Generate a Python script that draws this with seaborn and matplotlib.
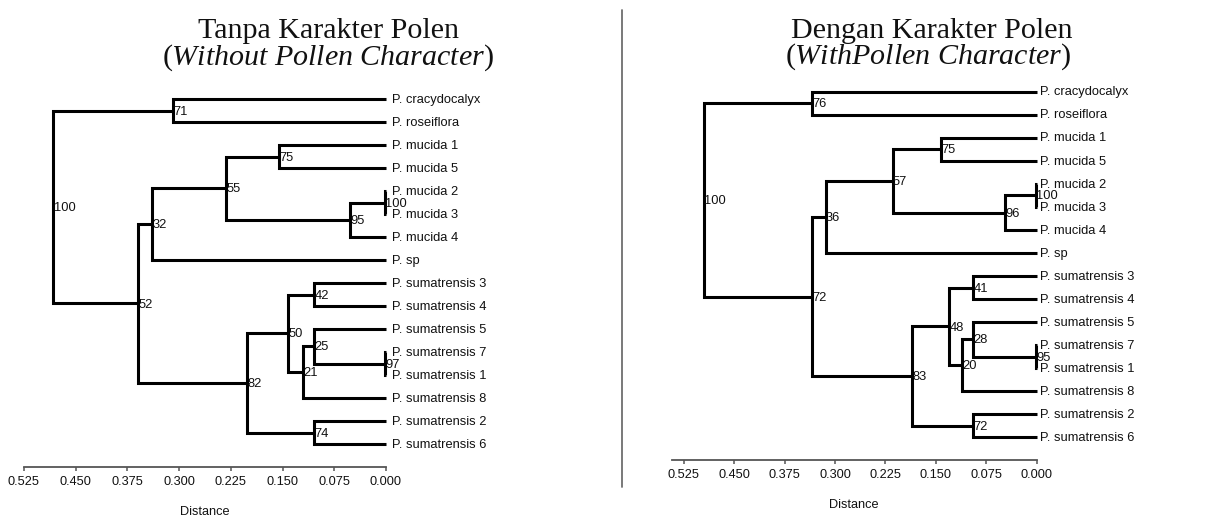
import numpy as np
import pandas as pd
import seaborn as sns
import matplotlib.pyplot as plt
from matplotlib.lines import Line2D

sns.set_theme(style="white")
plt.rcParams['font.family'] = ['Liberation Sans', 'DejaVu Sans']
plt.rcParams['mathtext.fontset'] = 'custom'
plt.rcParams['mathtext.rm'] = 'Liberation Serif'
plt.rcParams['mathtext.it'] = 'Liberation Serif:italic'

leaves = ["P. cracydocalyx", "P. roseiflora", "P. mucida 1", "P. mucida 5",
          "P. mucida 2", "P. mucida 3", "P. mucida 4", "P. sp",
          "P. sumatrensis 3", "P. sumatrensis 4", "P. sumatrensis 5",
          "P. sumatrensis 7", "P. sumatrensis 1", "P. sumatrensis 8",
          "P. sumatrensis 2", "P. sumatrensis 6"]

# joins: indices < 16 are leaves, 16+k is the k-th join
pairs = [(0, 1), (4, 5), (2, 3), (17, 6), (18, 19), (20, 7),
         (11, 12), (10, 22), (23, 13), (8, 9), (25, 24), (14, 15),
         (26, 27), (21, 28), (16, 29)]

dist_without = [0.3085, 0.0015, 0.1557, 0.0527, 0.2316, 0.339,
                0.0015, 0.104, 0.121, 0.104, 0.142, 0.104,
                0.2016, 0.360, 0.4825]
boot_without = [71, 100, 75, 95, 55, 32, 97, 25, 21, 42, 50, 74, 82, 52, 100]

dist_with = [0.334, 0.001, 0.143, 0.047, 0.2144, 0.314,
             0.001, 0.095, 0.1117, 0.095, 0.1305, 0.095,
             0.186, 0.334, 0.495]
boot_with = [76, 100, 75, 96, 57, 36, 95, 28, 20, 41, 48, 72, 83, 72, 100]

ticks = [0.525, 0.450, 0.375, 0.300, 0.225, 0.150, 0.075, 0.000]

W, H = 1223, 518
fig = plt.figure(figsize=(W / 100, H / 100), dpi=100)


def draw_tree(ax, dist, boot, label_off):
    n = len(leaves)
    xs = [0.0] * n
    ys = list(range(n))
    rows = []
    for k, ((a, b), h) in enumerate(zip(pairs, dist)):
        rows += [(k, xs[a], ys[a]), (k, h, ys[a]), (k, h, ys[b]), (k, xs[b], ys[b])]
        xs.append(h)
        ys.append((ys[a] + ys[b]) / 2)
    df = pd.DataFrame(rows, columns=["seg", "x", "y"])
    sns.lineplot(data=df, x="x", y="y", units="seg", estimator=None, sort=False,
                 color="black", lw=2.2, ax=ax, legend=False, clip_on=False,
                 solid_joinstyle="miter", solid_capstyle="butt")
    for i, name in enumerate(leaves):
        ax.annotate(name, (0, i), xytext=(label_off, -0.5), textcoords="offset points",
                    ha="left", va="center", fontsize=9.3, color="#111")
    for k, bs in enumerate(boot):
        ax.annotate(str(bs), (xs[n + k], ys[n + k]), xytext=(0.3, -0.8),
                    textcoords="offset points", ha="left", va="center",
                    fontsize=9.3, color="#111")
    ax.set_xticks(ticks)
    ax.set_xticklabels([f"{t:.3f}" for t in ticks])
    ax.set_yticks([])
    ax.set_ylabel("")
    ax.set_xlabel("Distance", fontsize=9.2, labelpad=13, color="#111")
    sns.despine(ax=ax, left=True)
    ax.spines["bottom"].set_color("#555")
    ax.spines["bottom"].set_linewidth(1.3)
    ax.tick_params(axis="x", bottom=True, length=3, width=1.1, color="#555",
                   pad=3.5, labelsize=9.2, labelcolor="#111")


def px_axes(x0, x1, ytop, ybot):
    return fig.add_axes([x0 / W, 1 - ybot / H, (x1 - x0) / W, (ybot - ytop) / H])


# left tree
ax1 = px_axes(24, 386, 99, 466.7)
draw_tree(ax1, dist_without, boot_without, 4)
ax1.set_xlim(0.525, 0)
ax1.set_ylim((466.7 - 99) / 23.0, 0)

# right tree
ax2 = px_axes(671.7, 1036.7, 91.7, 460)
draw_tree(ax2, dist_with, boot_with, 2.5)
ax2.set_xlim(0.543, 0)
ax2.set_ylim((460 - 91.7) / 23.04, 0)
ax2.spines["bottom"].set_bounds(0, 0.543)

# divider
fig.add_artist(Line2D([622 / W, 622 / W], [1 - 10 / H, 1 - 487 / H],
                      color="#6e6e6e", lw=1.3))

title_kw = dict(ha="center", va="baseline", family="Liberation Serif",
                fontsize=21.6, color="#111")
fig.text(329 / W, 1 - 38 / H, "Tanpa Karakter Polen", **title_kw)
fig.text(328 / W, 1 - 65 / H, r"($\mathit{Without\ Pollen\ Character}$)", **title_kw)
fig.text(932 / W, 1 - 38 / H, "Dengan Karakter Polen", **title_kw)
fig.text(928 / W, 1 - 64 / H, r"($\mathit{WithPollen\ Character}$)", **title_kw)

fig.savefig("out.png", dpi=100)
